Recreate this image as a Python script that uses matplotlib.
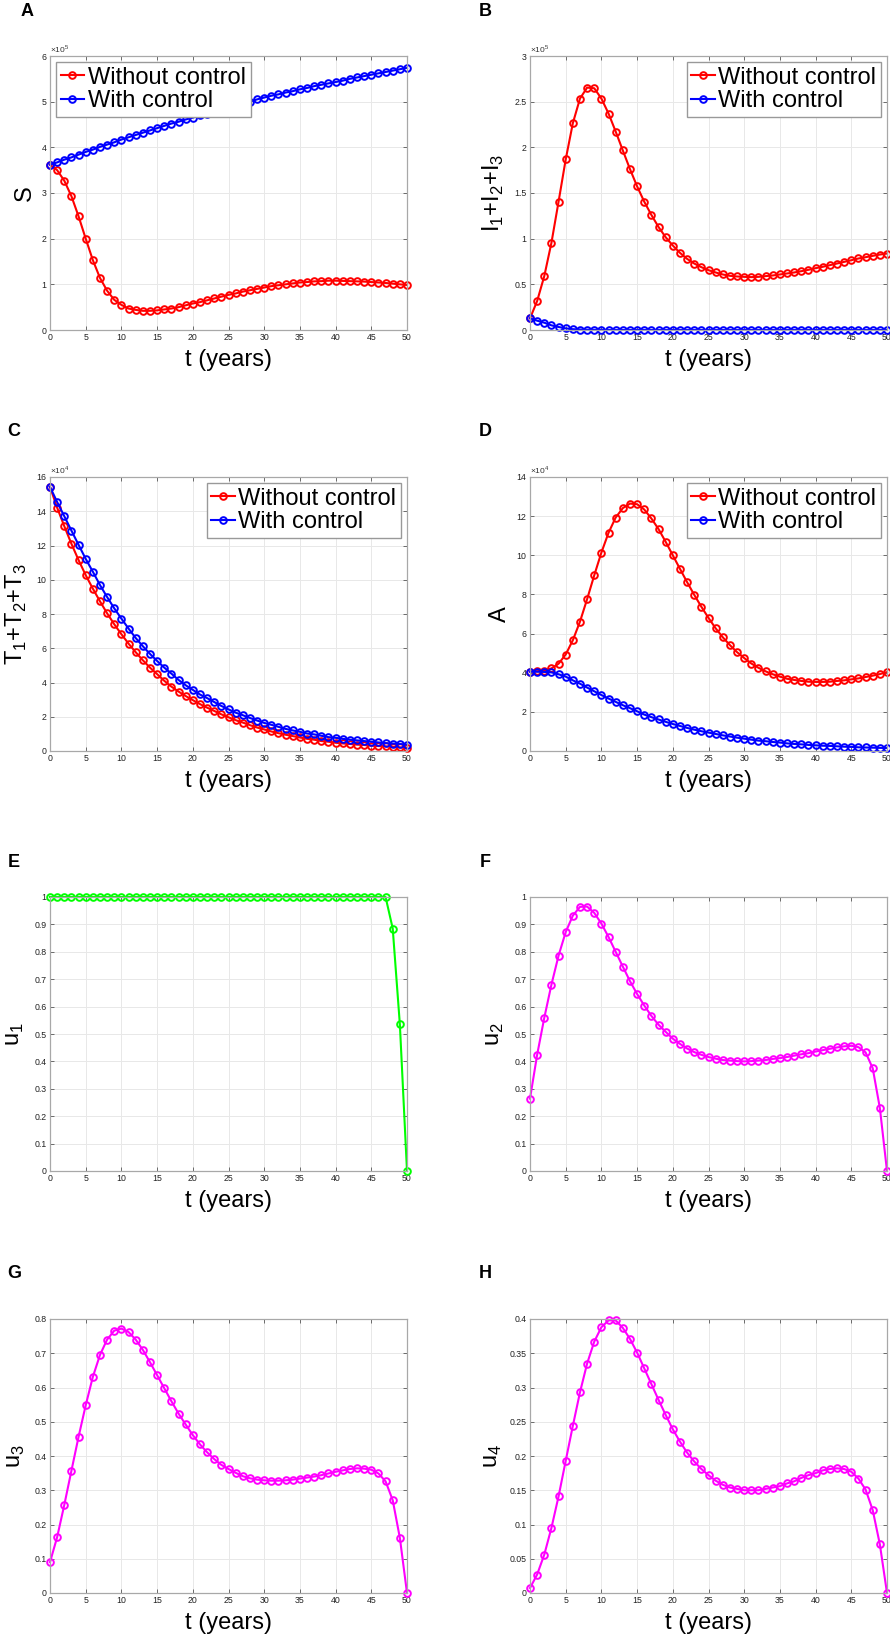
import numpy as np
import matplotlib.pyplot as plt
from matplotlib.ticker import FuncFormatter, MultipleLocator

plt.rcParams['font.family'] = ['Liberation Sans', 'DejaVu Sans']
plt.rcParams['mathtext.fontset'] = 'custom'
plt.rcParams['mathtext.rm'] = 'Liberation Sans'

# ==========================================
# DATA (t = 0..50 years)
# ==========================================
t = np.arange(0, 51)

S_without = [3.62, 3.50, 3.27, 2.93, 2.49, 2.00, 1.53, 1.14, 0.86, 0.66,
             0.55, 0.47, 0.44, 0.42, 0.42, 0.43, 0.45, 0.47, 0.50, 0.54,
             0.58, 0.61, 0.65, 0.69, 0.73, 0.77, 0.80, 0.84, 0.87, 0.90,
             0.93, 0.96, 0.98, 1.00, 1.02, 1.04, 1.05, 1.065, 1.07, 1.08,
             1.08, 1.075, 1.07, 1.065, 1.06, 1.05, 1.04, 1.03, 1.015, 1.00, 0.985]
S_with = [3.62, 3.67, 3.73, 3.78, 3.84, 3.90, 3.95, 4.01, 4.06, 4.11,
          4.17, 4.22, 4.27, 4.32, 4.37, 4.42, 4.47, 4.52, 4.56, 4.61,
          4.65, 4.70, 4.74, 4.79, 4.83, 4.88, 4.92, 4.96, 5.00, 5.05,
          5.09, 5.13, 5.16, 5.20, 5.23, 5.27, 5.30, 5.34, 5.37, 5.40,
          5.43, 5.46, 5.50, 5.53, 5.56, 5.59, 5.62, 5.65, 5.68, 5.71, 5.74]

I_without = [0.127, 0.317, 0.59, 0.954, 1.405, 1.867, 2.264, 2.534, 2.654, 2.647,
             2.534, 2.37, 2.173, 1.966, 1.762, 1.573, 1.405, 1.26, 1.128, 1.016,
             0.925, 0.845, 0.779, 0.728, 0.688, 0.655, 0.63, 0.608, 0.593, 0.586,
             0.582, 0.579, 0.582, 0.59, 0.597, 0.608, 0.619, 0.63, 0.644, 0.659,
             0.677, 0.692, 0.71, 0.728, 0.746, 0.764, 0.783, 0.797, 0.812, 0.826, 0.837]
I_with = [0.128, 0.102, 0.08, 0.051, 0.033, 0.018, 0.009, 0.005, 0.003, 0.002,
          0.002, 0.001, 0.001, 0.001, 0.001, 0.001, 0.001, 0.001, 0.001, 0.001,
          0.001, 0.001, 0.001, 0.001, 0.001, 0.001, 0.001, 0.001, 0.001, 0.001,
          0.001, 0.001, 0.001, 0.001, 0.001, 0.001, 0.001, 0.001, 0.001, 0.001,
          0.001, 0.001, 0.001, 0.001, 0.001, 0.001, 0.001, 0.001, 0.001, 0.001, 0.001]

T_without = [15.42, 14.21, 13.13, 12.10, 11.15, 10.27, 9.48, 8.74, 8.04, 7.40,
             6.82, 6.27, 5.77, 5.30, 4.87, 4.49, 4.10, 3.76, 3.47, 3.21,
             2.97, 2.74, 2.53, 2.34, 2.14, 1.97, 1.80, 1.66, 1.51, 1.37,
             1.26, 1.14, 1.04, 0.95, 0.87, 0.79, 0.71, 0.66, 0.58, 0.54,
             0.48, 0.44, 0.41, 0.37, 0.35, 0.31, 0.29, 0.27, 0.25, 0.21, 0.19]
T_with = [15.42, 14.54, 13.71, 12.87, 12.04, 11.22, 10.47, 9.69, 8.99, 8.33,
          7.73, 7.15, 6.60, 6.12, 5.67, 5.26, 4.87, 4.52, 4.15, 3.84,
          3.57, 3.30, 3.09, 2.86, 2.63, 2.43, 2.24, 2.09, 1.93, 1.78,
          1.64, 1.53, 1.41, 1.29, 1.20, 1.12, 1.02, 0.97, 0.89, 0.81,
          0.77, 0.71, 0.66, 0.62, 0.58, 0.54, 0.50, 0.46, 0.43, 0.41, 0.37]

A_without = [4.05, 4.08, 4.10, 4.22, 4.46, 4.93, 5.66, 6.61, 7.76, 8.98,
             10.14, 11.15, 11.93, 12.41, 12.64, 12.61, 12.34, 11.88, 11.34, 10.69,
             10.00, 9.31, 8.63, 7.98, 7.37, 6.80, 6.27, 5.81, 5.41, 5.05,
             4.75, 4.47, 4.25, 4.07, 3.92, 3.80, 3.69, 3.63, 3.58, 3.54,
             3.53, 3.53, 3.54, 3.58, 3.61, 3.66, 3.71, 3.78, 3.85, 3.93, 4.03]
A_with = [4.05, 4.05, 4.04, 4.02, 3.92, 3.80, 3.61, 3.44, 3.24, 3.05,
          2.86, 2.68, 2.51, 2.34, 2.19, 2.03, 1.86, 1.73, 1.61, 1.49,
          1.38, 1.28, 1.18, 1.09, 1.01, 0.94, 0.87, 0.80, 0.74, 0.68,
          0.63, 0.58, 0.53, 0.50, 0.46, 0.43, 0.39, 0.36, 0.34, 0.31,
          0.29, 0.27, 0.26, 0.24, 0.22, 0.21, 0.19, 0.18, 0.17, 0.16, 0.15]

u1 = [1.0] * 48 + [0.885, 0.535, 0.0]
u2 = [0.264, 0.424, 0.559, 0.68, 0.786, 0.872, 0.932, 0.964, 0.965, 0.942,
      0.903, 0.854, 0.80, 0.746, 0.693, 0.646, 0.604, 0.566, 0.534, 0.508,
      0.483, 0.464, 0.447, 0.434, 0.424, 0.416, 0.41, 0.405, 0.403, 0.401,
      0.40, 0.401, 0.403, 0.405, 0.409, 0.412, 0.416, 0.421, 0.426, 0.43,
      0.436, 0.441, 0.446, 0.451, 0.455, 0.457, 0.452, 0.433, 0.375, 0.23, 0.0]
u3 = [0.09, 0.163, 0.257, 0.357, 0.456, 0.548, 0.631, 0.695, 0.74, 0.766,
      0.772, 0.762, 0.74, 0.71, 0.674, 0.636, 0.598, 0.56, 0.524, 0.492,
      0.461, 0.434, 0.411, 0.391, 0.374, 0.362, 0.351, 0.341, 0.335, 0.331,
      0.329, 0.328, 0.328, 0.329, 0.331, 0.334, 0.337, 0.34, 0.344, 0.349,
      0.354, 0.358, 0.362, 0.364, 0.363, 0.36, 0.349, 0.326, 0.271, 0.161, 0.0]
u4 = [0.0073, 0.027, 0.056, 0.095, 0.141, 0.193, 0.244, 0.293, 0.335, 0.367,
      0.388, 0.398, 0.398, 0.387, 0.371, 0.351, 0.328, 0.305, 0.282, 0.26,
      0.239, 0.221, 0.205, 0.192, 0.181, 0.172, 0.164, 0.158, 0.154, 0.152,
      0.15, 0.15, 0.15, 0.152, 0.154, 0.156, 0.16, 0.163, 0.168, 0.172,
      0.175, 0.179, 0.181, 0.182, 0.181, 0.177, 0.167, 0.151, 0.121, 0.071, 0.0]

# ==========================================
# FIGURE LAYOUT
# ==========================================
W, H = 890, 1637
fig = plt.figure(figsize=(W / 100, H / 100), dpi=100)

col_left = [50, 530]
ax_w = 357
row_top = [56, 477, 897, 1319]
ax_h = 274

def make_axes(r, c):
    x0 = col_left[c]
    y0 = row_top[r] + ax_h
    return fig.add_axes([x0 / W, 1 - y0 / H, ax_w / W, ax_h / H])

def style(ax, ylabel, ylab_x, yticks, ylim, scale=None):
    ax.set_xlim(0, 50)
    ax.set_ylim(*ylim)
    ax.xaxis.set_major_locator(MultipleLocator(5))
    ax.set_yticks(yticks)
    if scale:
        ax.yaxis.set_major_formatter(FuncFormatter(lambda v, p: f'{v / 10**scale:g}'))
        ax.text(0.0, 1.004, r'$\times10^{%d}$' % scale, transform=ax.transAxes,
                fontsize=6, color='#333333', ha='left', va='bottom')
    else:
        ax.yaxis.set_major_formatter(FuncFormatter(lambda v, p: f'{round(v, 4):g}'))
    ax.grid(True, color='#e8e8e8', linewidth=0.7)
    ax.set_axisbelow(True)
    for sp in ax.spines.values():
        sp.set_color('#a8a8a8')
        sp.set_linewidth(0.9)
    ax.tick_params(direction='in', top=True, right=True, length=3, width=0.6,
                   color='#555555', labelcolor='#222222', labelsize=6.3, pad=2.5)
    ax.set_xlabel('t (years)', fontsize=17, va='center')
    ax.xaxis.set_label_coords(0.5, -30 / ax_h)
    ax.set_ylabel(ylabel, fontsize=17, va='center')
    ax.yaxis.set_label_coords(ylab_x / ax_w, 0.5)

def draw(ax, y, color, label=None):
    ax.plot(t, y, color=color, linewidth=1.5, marker='o', markersize=4.8,
            markerfacecolor='none', markeredgewidth=1.4, label=label, clip_on=False)

def legend(ax, loc):
    ax.legend(loc=loc, fontsize=17, handlelength=1.0, handletextpad=0.15,
              borderpad=0.2, labelspacing=0.05, borderaxespad=0.25,
              fancybox=False, framealpha=1, edgecolor='#999999')

red, blue, green, magenta = '#FF0000', '#0000FF', '#00FF00', '#FF00FF'

# A: susceptibles
ax = make_axes(0, 0)
draw(ax, np.array(S_without) * 1e5, red, 'Without control')
draw(ax, np.array(S_with) * 1e5, blue, 'With control')
style(ax, 'S', -25, np.arange(0, 7) * 1e5, (0, 6e5), scale=5)
legend(ax, 'upper left')

# B: infected
ax = make_axes(0, 1)
draw(ax, np.array(I_without) * 1e5, red, 'Without control')
draw(ax, np.array(I_with) * 1e5, blue, 'With control')
style(ax, r'I$_1$+I$_2$+I$_3$', -37, np.arange(0, 3.01, 0.5) * 1e5, (0, 3e5), scale=5)
legend(ax, 'upper right')

# C: treated
ax = make_axes(1, 0)
draw(ax, np.array(T_without) * 1e4, red, 'Without control')
draw(ax, np.array(T_with) * 1e4, blue, 'With control')
style(ax, r'T$_1$+T$_2$+T$_3$', -34, np.arange(0, 17, 2) * 1e4, (0, 16e4), scale=4)
legend(ax, 'upper right')

# D: AIDS
ax = make_axes(1, 1)
draw(ax, np.array(A_without) * 1e4, red, 'Without control')
draw(ax, np.array(A_with) * 1e4, blue, 'With control')
style(ax, 'A', -30, np.arange(0, 15, 2) * 1e4, (0, 14e4), scale=4)
legend(ax, 'upper right')

# E-H: controls
ax = make_axes(2, 0)
draw(ax, u1, green)
style(ax, r'u$_1$', -35, np.arange(0, 1.01, 0.1), (0, 1))

ax = make_axes(2, 1)
draw(ax, u2, magenta)
style(ax, r'u$_2$', -35, np.arange(0, 1.01, 0.1), (0, 1))

ax = make_axes(3, 0)
draw(ax, u3, magenta)
style(ax, r'u$_3$', -34, np.arange(0, 0.81, 0.1), (0, 0.8))

ax = make_axes(3, 1)
draw(ax, u4, magenta)
style(ax, r'u$_4$', -37, np.arange(0, 0.401, 0.05), (0, 0.4))

# panel letters
letters = [('A', 27, 12), ('B', 485, 12), ('C', 14, 432), ('D', 485, 432),
           ('E', 14, 862), ('F', 485, 862), ('G', 14, 1273), ('H', 485, 1273)]
for txt, px, py in letters:
    fig.text(px / W, 1 - py / H, txt, fontsize=13, fontweight='bold',
             ha='center', va='center')

fig.savefig('out.png', dpi=100)
